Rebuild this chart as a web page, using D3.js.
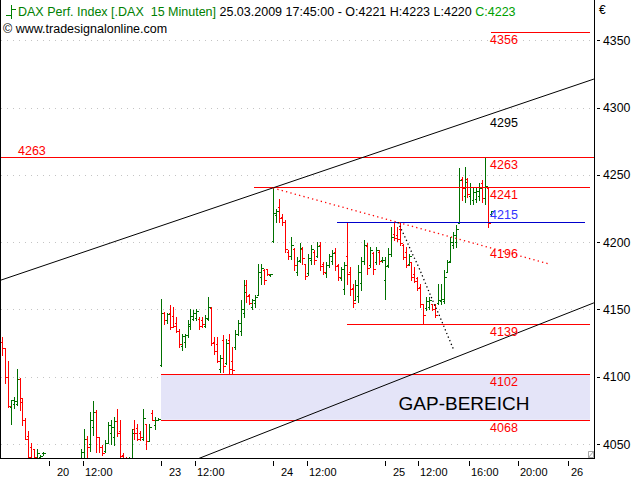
<!DOCTYPE html>
<html><head><meta charset="utf-8">
<script src="https://cdn.jsdelivr.net/npm/d3@7"></script>
<style>
html,body{margin:0;padding:0;background:#fff;}
svg{display:block;font-family:"Liberation Sans",Arial,sans-serif;}
</style></head><body>
<svg id="c" width="640" height="480"></svg>
<script>
// ---------- DATA (15-minute OHLC bars, one array per trading day) ----------
const day19 = [
 [4126,4129.5,4116,4121],[4121,4121,4095,4099.5],[4100,4111.4,4077.5,4078],[4077.5,4082.4,4065,4082.4],
 [4080,4085,4077,4082],[4080,4106,4079,4098],[4098,4099,4075,4081],[4084,4084,4064,4068],
 [4068,4069,4054,4054],[4056,4060,4035,4040],[4048,4051,4030,4036],[4046,4046,4030,4040],
 [4036,4046,4030,4043],[4040,4042,4030,4041],[4043,4044,4042,4043.5],[4036,4037,4028,4033]
];
const day20 = [
 [4033,4036,4022,4025],[4025,4030,4015,4018],[4018,4026,4014,4024],[4024,4031,4020,4028],
 [4028,4033,4019,4021],[4021,4027,4012,4016],[4016,4024,4013,4022],[4022,4030,4020,4027],
 [4027,4034,4023,4025],[4025,4032,4022,4030],[4030,4036,4026,4031],
 [4030,4046,4025,4044],[4035,4061,4030,4054],[4054,4056,4040,4048],[4050,4073.5,4045,4068],
 [4063,4081.7,4057,4074],[4074,4075,4044,4055],[4055,4055,4044,4048],[4048,4049,4042,4043],
 [4045,4052.7,4044,4051],[4051,4066,4051,4064],[4058,4067.5,4050,4063],[4055,4069.7,4049,4067],
 [4067,4075.7,4056,4058],[4060,4067.5,4040,4041],[4042,4043,4030,4035],[4038,4040,4028,4034],
 [4034,4040,4030,4039],[4038,4061,4036,4058],[4061,4068,4054,4058],[4062,4065,4052.7,4054],
 [4058,4060,4053,4055],[4054,4075.7,4052.7,4069],[4065,4065,4046.6,4052],[4052,4065,4052,4063],
 [4073,4074.9,4067.5,4068],[4064,4070,4061.4,4068],[4068,4069,4067.5,4068.5]
];
const day23 = [
 [4108.5,4158,4108,4147],[4147,4148,4139.4,4141.9],[4141.9,4147.5,4140,4146.9],[4147,4153.2,4135.7,4137],
 [4145,4151.8,4136.9,4138],[4140,4144.4,4133.2,4134],[4134,4135.7,4122.1,4124],[4123,4132,4119.6,4130],
 [4126,4132,4122.1,4131],[4131,4141.9,4129.5,4139],[4138,4150.6,4135.7,4145],[4143,4149.4,4141.9,4147],
 [4144,4150.6,4141.9,4149],[4143,4144.4,4135.7,4138],[4142,4144.4,4136.9,4139],[4138,4145.7,4136.9,4144],
 [4143,4159.3,4141.9,4152],[4151,4151.8,4123.3,4125],[4126,4129.5,4117.1,4119],[4124,4129.5,4110.9,4112],
 [4106,4115.9,4103.5,4114],[4127,4130.8,4103.5,4108],[4110,4128.3,4109.7,4125],[4127,4132,4102.3,4106],
 [4112,4122.1,4102.3,4105],[4122,4134.5,4120.8,4132],[4132,4141.9,4130.8,4140],[4134,4156.8,4130.8,4150],
 [4147,4171.7,4144.4,4163],[4168,4171.7,4155.6,4160],[4161,4161.8,4154.4,4155],[4152,4158.1,4150.6,4157],
 [4155,4160.5,4151.8,4159],[4161,4184.1,4160.5,4178],[4174,4184.1,4169.2,4181],[4179,4180.4,4169.2,4172],
 [4180,4180.4,4175.4,4176],[4175.5,4176.5,4175,4176]
];
const day24 = [
 [4201,4241,4200,4222],[4220,4225,4215,4223],[4226,4231.7,4215,4218],[4219,4221,4213,4215],
 [4215,4216.8,4192.7,4195],[4193,4194,4187.8,4190],[4190,4203.9,4187.8,4198],[4195,4195.3,4179.1,4183],
 [4178,4189,4175.4,4186],[4187,4199,4185.3,4196],[4195,4196.5,4184.1,4188],[4184,4184.1,4172.9,4175],
 [4177,4191.5,4175.4,4188],[4187,4197.7,4184.1,4195],[4193,4194,4184.1,4187],[4190,4200.2,4189,4197],
 [4198,4200.2,4179.1,4182],[4184,4185.3,4176.6,4178],[4177,4185.3,4174.1,4183],[4183,4191.5,4181.6,4190],
 [4186,4194,4184.1,4192],[4193,4195.3,4179.1,4182],[4183,4184.1,4171.7,4174],[4173,4181.6,4171.7,4180],
 [4165,4185.3,4161.8,4183],[4190,4215,4169.2,4176],[4178,4181.6,4160.5,4165],[4166,4169.2,4151.8,4155],
 [4157,4171.7,4156.8,4168],[4160,4182.8,4155.6,4178],[4170,4189,4164.2,4186],[4186,4201.4,4184.1,4198],
 [4197,4199,4176.6,4181],[4183,4196.5,4181.6,4194],[4192,4192.7,4176.6,4180],[4185,4196.5,4184.1,4194],
 [4193,4194,4184.1,4186],[4186.5,4189,4185,4187]
];
const day25 = [
 [4172,4189,4158.1,4182],[4183,4195.3,4181.6,4191],[4191,4210.9,4189.5,4204],[4206,4213.9,4201.9,4203],
 [4205,4210.9,4200.9,4202],[4210,4213.9,4197.7,4199],[4198,4198.5,4187.8,4189],[4193,4196.5,4181.6,4183],
 [4184,4191.5,4182.8,4190],[4185,4185.3,4171.7,4174],[4176,4181.6,4170.4,4171],[4173,4174.1,4164.2,4166],
 [4167,4169.2,4151.8,4154],[4154,4154.4,4139,4146],[4151,4159.3,4149.9,4156],[4152,4159.3,4150.6,4157],
 [4154,4154.4,4149.4,4150],[4153,4154.4,4144.4,4146],[4155,4169.2,4154.4,4157],[4156,4169.2,4154.4,4158],
 [4156,4179.1,4154.9,4174],[4178,4186.6,4177.9,4185],[4186,4203.9,4185.3,4200],[4198,4207.6,4195.3,4205],
 [4200,4212.6,4196.5,4210],[4214,4254.8,4213.9,4246],[4247,4248.5,4231.2,4240],[4234,4256,4229.9,4245],
 [4247,4247.3,4233.7,4236],[4234,4243.6,4228.7,4241],[4231,4241.1,4228.7,4237],[4232,4239.9,4229.9,4238],
 [4234,4243.6,4231.2,4240],[4244,4246.1,4229.9,4233],[4233,4263,4228.7,4242],[4240,4240,4211.3,4214],
 [4221,4223,4220,4223]
];
const barsPerDay = 38;

// axis ticks
const priceTicks = [4050, 4100, 4150, 4200, 4250, 4300, 4350];
const timeTickLabels = ["20", "12:00", "23", "12:00", "24", "12:00", "25", "12:00", "16:00", "20:00", "26"];
const timeTickIndex  = [0, 11.44, 38, 49.44, 76, 87.44, 114, 125.3, 142.5, 159.25, 176.2];

// horizontal levels (price, first bar index)
const levelPrices = [4356, 4263, 4241, 4215, 4139, 4102, 4068];
const levelFrom   = [150, -16.3, 69.6, 97.7, 101, 38, 38];
const levelKind   = ["red", "red", "red", "blue", "red", "red", "red"];
// gap zone
const gapZone = [4068, 4102];
// trend lines [barIndex, price]
const upperChannel = [[-16.3, 4171.8], [184.9, 4321.2]];
const lowerChannel = [[48, 4036.8], [184.9, 4154.9]];
const dottedResist = [[76, 4240.2], [170, 4183.6]];
const dottedCurve  = [[118.4,4214.8],[120.8,4203.7],[123.2,4191.8],[125.6,4180.6],[128.0,4168.0],
                      [130.3,4156.1],[132.7,4144.2],[135.1,4131.5],[137.4,4119.6]];
// header
const title = {name:"DAX Perf. Index [.DAX  15 Minuten]", stamp:"25.03.2009 17:45:00", o:4221, h:4223, l:4220, c:4223};

// ---------- DRAWING ----------
const svg = d3.select("#c");
const PL = 1, PR = 594, PB = 458;
const x = d3.scaleLinear().domain([-16.29, 184.93]).range([PL, PR]);
const y = d3.scaleLinear().domain([4050, 4350]).range([444, 40.3]);
const px = v => Math.round(v) + 0.5;
const RED = "#ff0000", GREEN = "#007000", BLUE = "#0000cc";

svg.append("defs").append("clipPath").attr("id","pc")
  .append("rect").attr("x",PL).attr("y",0).attr("width",PR-PL).attr("height",PB);

const plot = svg.append("g").attr("clip-path","url(#pc)");

// grid
plot.selectAll(".grid").data(priceTicks).join("line")
  .attr("x1",PL).attr("x2",PR).attr("y1",d=>px(y(d))).attr("y2",d=>px(y(d)))
  .attr("stroke","#c4c4c4").attr("stroke-dasharray","1,5");

// gap zone
plot.append("rect").attr("x",x(38)).attr("width",590-x(38))
  .attr("y",y(gapZone[1])).attr("height",y(gapZone[0])-y(gapZone[1]))
  .attr("fill","#e4e4f8");

// bars
const bars = [];
[[day19,-day19.length],[day20,0],[day23,barsPerDay],[day24,2*barsPerDay],[day25,3*barsPerDay]]
  .forEach(([arr,s]) => arr.forEach((d,k) => bars.push({i:s+k,o:d[0],h:d[1],l:d[2],c:d[3]})));
plot.append("g").attr("shape-rendering","crispEdges").selectAll("path").data(bars).join("path")
  .attr("d", d => {
    const xx = px(x(d.i)), yo = px(y(d.o)), yc = px(y(d.c));
    return `M${xx},${Math.round(y(d.h))}V${Math.round(y(d.l))+1}M${xx-2},${yo}H${xx}M${xx},${yc}H${xx+2}`;
  })
  .attr("fill","none").attr("stroke", d => d.c >= d.o ? GREEN : RED).attr("stroke-width",1);

// level lines
levelPrices.forEach((p,k) => {
  const right = levelKind[k] === "blue" ? 585 : 590;
  plot.append("line").attr("x1", Math.max(PL, x(levelFrom[k]))).attr("x2", p===4263 ? PR : right)
    .attr("y1", px(y(p))).attr("y2", px(y(p)))
    .attr("stroke", levelKind[k]==="blue" ? BLUE : RED).attr("shape-rendering","crispEdges");
});

// trend lines
const line = d3.line().x(d=>x(d[0])).y(d=>y(d[1]));
plot.append("path").attr("d",line(upperChannel)).attr("stroke","#000").attr("fill","none");
plot.append("path").attr("d",line(lowerChannel)).attr("stroke","#000").attr("fill","none");
plot.append("path").attr("d",line(dottedResist)).attr("stroke",RED).attr("fill","none")
  .attr("stroke-width",1.3).attr("stroke-dasharray","1.3,3.2");
plot.append("path").attr("d",d3.line().x(d=>x(d[0])).y(d=>y(d[1])).curve(d3.curveMonotoneX)(dottedCurve))
  .attr("stroke","#000").attr("fill","none").attr("stroke-width",1.3).attr("stroke-dasharray","1.3,2.6");

// level labels (right column, next to the last bar)
const labX = x(bars[bars.length-1].i) - 1;
const lab = (t, xx, yy, col, size) => svg.append("text").attr("x",xx).attr("y",yy)
  .attr("fill",col).attr("font-size",size||12.5).text(t);
levelPrices.forEach((p,k) => {
  const above = levelKind[k] === "blue";
  lab(String(p), labX, y(p) + (above ? -2.5 : 12), levelKind[k]==="blue" ? "#3333ff" : RED);
});
lab("4263", 18, y(4263) - 2.5, RED);
const valAt = (seg, i) => seg[0][1] + (seg[1][1]-seg[0][1])*(i-seg[0][0])/(seg[1][0]-seg[0][0]);
const labIdx = x.invert(labX);
lab(String(Math.round(valAt(upperChannel, labIdx))), labX, y(valAt(upperChannel, labIdx)) + 13, "#000");
lab(String(Math.round(valAt(dottedResist, labIdx))), labX, y(valAt(dottedResist, labIdx)) + 10.5, RED);
svg.append("text").attr("x", 464).attr("y", y(gapZone[0]) - 10).attr("text-anchor","middle")
  .attr("font-size",19).attr("fill","#000").text("GAP-BEREICH");

// frame
svg.append("path").attr("d",`M${PL-0.5},0V${PB+0.5}H${PR+0.5}V0`).attr("fill","none")
  .attr("stroke","#000").attr("shape-rendering","crispEdges");
// resize glyph
svg.append("path").attr("d","M588.5,451.5h5v6h-5zM588.5,457.5L593.5,451.5").attr("fill","none")
  .attr("stroke","#909090").attr("stroke-width",0.8);

// y axis (right)
const ya = svg.append("g");
priceTicks.forEach(t => {
  ya.append("line").attr("x1",597).attr("x2",600).attr("y1",px(y(t))).attr("y2",px(y(t)))
    .attr("stroke","#000").attr("shape-rendering","crispEdges");
  ya.append("text").attr("x",603).attr("y",y(t)+4.5).attr("font-size",12.3).attr("fill","#000").text(t);
});
svg.append("text").attr("x",599).attr("y",14).attr("font-size",12).text("€");

// x axis (bottom)
const lastIdx = bars[bars.length-1].i;
timeTickIndex.forEach((t,k) => {
  const xx = px(x(t));
  svg.append("line").attr("x1",xx).attr("x2",xx).attr("y1",461).attr("y2",466)
    .attr("stroke","#000").attr("shape-rendering","crispEdges");
  const lbl = timeTickLabels[k];
  const dx = lbl.includes(":") ? 1.5 : (t < lastIdx ? 7.5 : 2.5);
  svg.append("text").attr("x",xx+dx).attr("y",476).attr("font-size",11).attr("fill","#000").text(lbl);
});

// header
svg.append("path").attr("d","M11.5,5V19M6,15.5H11.5M11.5,9.5H16").attr("stroke","#008000")
  .attr("fill","none").attr("shape-rendering","crispEdges");
const hdr = svg.append("text").attr("x",18).attr("y",16).attr("font-size",12.5).style("white-space","pre");
hdr.append("tspan").attr("fill","#008000").text(title.name);
hdr.append("tspan").attr("fill","#000").text(` ${title.stamp} - O:${title.o} H:${title.h} L:${title.l} `);
hdr.append("tspan").attr("fill","#00a000").text(`C:${title.c}`);
svg.append("text").attr("x",3).attr("y",33).attr("font-size",12.5).attr("fill","#000")
  .text("© www.tradesignalonline.com");
</script>
</body></html>
